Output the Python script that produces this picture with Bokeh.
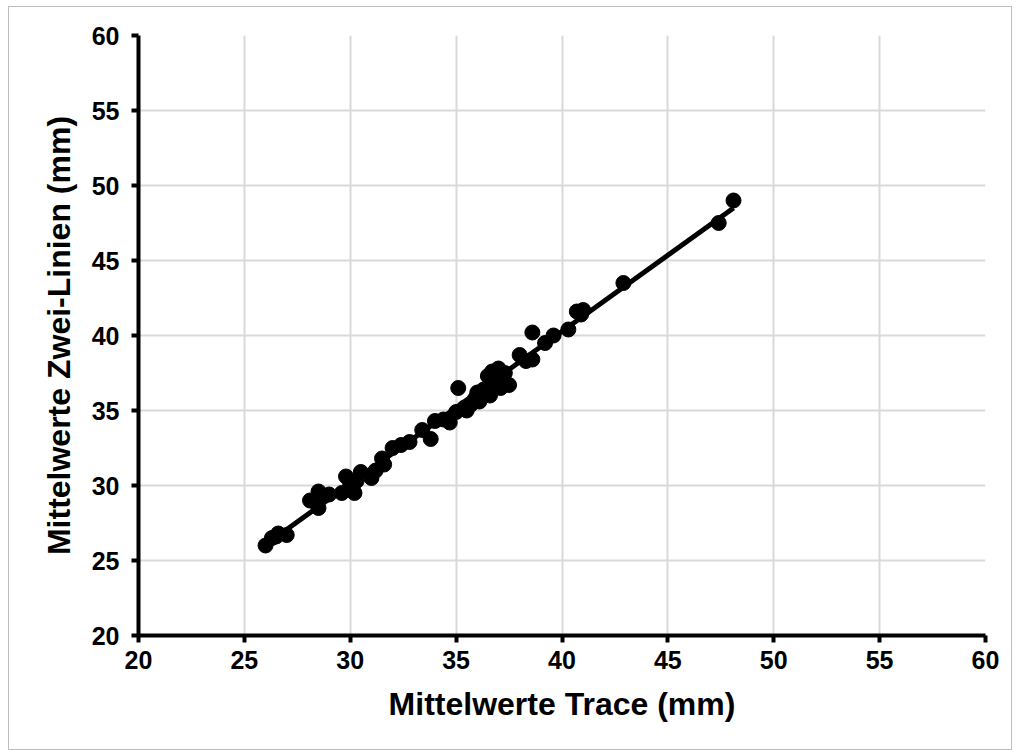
import numpy as np
from bokeh.plotting import figure
from bokeh.models import Range1d, FixedTicker
from bokeh.embed import file_html
from bokeh.resources import INLINE

trace_mm = [26.0, 26.3, 26.5, 26.6, 27.0, 28.1, 28.4, 28.5, 28.5, 29.0,
            29.6, 29.8, 30.0, 30.2, 30.3, 30.5, 31.0, 31.2, 31.5, 31.6,
            32.0, 32.4, 32.8, 33.4, 33.8, 34.0, 34.4, 34.7, 35.0, 35.1,
            35.4, 35.5, 35.7, 35.9, 36.0, 36.1, 36.3, 36.5, 36.6, 36.7,
            36.8, 36.9, 37.0, 37.1, 37.3, 37.5, 38.0, 38.3, 38.6, 38.6,
            39.2, 39.6, 40.3, 40.7, 40.9, 41.0, 42.9, 47.4, 48.1]
zwei_linien_mm = [26.0, 26.5, 26.6, 26.8, 26.7, 29.0, 29.0, 29.6, 28.5, 29.4,
                  29.5, 30.6, 30.1, 29.5, 30.3, 30.9, 30.5, 31.0, 31.8, 31.4,
                  32.5, 32.7, 32.9, 33.7, 33.1, 34.3, 34.4, 34.2, 34.9, 36.5,
                  35.2, 35.0, 35.4, 35.8, 36.2, 35.6, 36.4, 37.3, 36.0, 37.6,
                  36.8, 37.2, 37.8, 36.5, 37.5, 36.7, 38.7, 38.3, 38.4, 40.2,
                  39.5, 40.0, 40.4, 41.6, 41.4, 41.7, 43.5, 47.5, 49.0]
ticks = [20, 25, 30, 35, 40, 45, 50, 55, 60]

x = np.array(trace_mm)
y = np.array(zwei_linien_mm)
slope, icpt = np.polyfit(x, y, 1)
fx = np.array([x.min(), x.max()])
fy = slope * fx + icpt

p = figure(width=1002, height=742, output_backend="svg", toolbar_location=None,
           x_range=Range1d(20, 60), y_range=Range1d(20, 60),
           min_border_left=129, min_border_right=28, min_border_top=28, min_border_bottom=116,
           margin=(6, 0, 0, 8),
           styles={"border": "1px solid #bfbfbf", "box-sizing": "content-box"})
p.outline_line_color = None
p.background_fill_color = "white"
p.border_fill_color = "white"

for ax in (p.xaxis[0], p.yaxis[0]):
    ax.ticker = FixedTicker(ticks=ticks)
    ax.axis_line_width = 4
    ax.axis_line_color = "black"
    ax.major_tick_line_width = 4
    ax.major_tick_line_color = "black"
    ax.major_tick_out = 7
    ax.major_tick_in = 0
    ax.minor_tick_line_color = None
    ax.major_label_text_font = "Liberation Sans"
    ax.major_label_text_font_style = "bold"
    ax.major_label_text_font_size = "25px"
    ax.major_label_text_color = "black"
    ax.axis_label_text_font = "Liberation Sans"
    ax.axis_label_text_font_style = "bold"
    ax.axis_label_text_font_size = "32px"
    ax.axis_label_text_color = "black"

p.xaxis.axis_label = "Mittelwerte Trace (mm)"
p.yaxis.axis_label = "Mittelwerte Zwei-Linien (mm)"
p.xaxis.major_label_standoff = 8
p.yaxis.major_label_standoff = 12
p.xaxis.axis_label_standoff = 14
p.yaxis.axis_label_standoff = 12

p.grid.grid_line_color = "#d9d9d9"
p.grid.grid_line_width = 2
p.xgrid.ticker = FixedTicker(ticks=ticks)
p.ygrid.ticker = FixedTicker(ticks=ticks)

p.scatter(x, y, size=15, color="black")
p.line(fx, fy, line_width=5, color="black")

open("out.html", "w").write(file_html(p, INLINE))
